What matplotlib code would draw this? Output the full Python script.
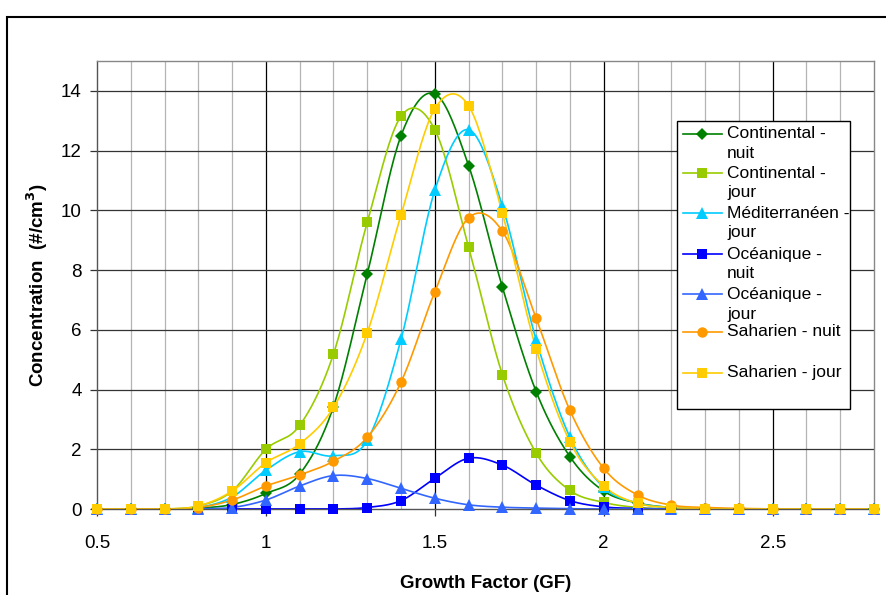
import numpy as np
import matplotlib
matplotlib.use("Agg")
import matplotlib.pyplot as plt
from matplotlib.lines import Line2D
from matplotlib.patches import Rectangle

plt.rcParams['font.family'] = ['Liberation Sans', 'DejaVu Sans']

gf = [0.5, 0.6, 0.7, 0.8, 0.9, 1.0, 1.1, 1.2, 1.3, 1.4, 1.5, 1.6, 1.7, 1.8, 1.9,
      2.0, 2.1, 2.2, 2.3, 2.4, 2.5, 2.6, 2.7, 2.8]

continental_nuit = [0, 0, 0, 0.03, 0.15, 0.52, 1.17, 3.43, 7.87, 12.5, 13.9, 11.5, 7.43,
                    3.93, 1.75, 0.6, 0.2, 0.05, 0.01, 0, 0, 0, 0, 0]
continental_jour = [0, 0, 0, 0.1, 0.6, 2.0, 2.8, 5.19, 9.6, 13.15, 12.7, 8.77, 4.5,
                    1.87, 0.62, 0.22, 0.05, 0.01, 0, 0, 0, 0, 0, 0]
mediterraneen_jour = [0, 0, 0, 0.05, 0.4, 1.3, 1.92, 1.78, 2.3, 5.68, 10.67, 12.7, 10.15,
                      5.66, 2.4, 0.72, 0.2, 0.05, 0.01, 0, 0, 0, 0, 0]
oceanique_nuit = [0, 0, 0, 0, 0, 0, 0, 0, 0.05, 0.28, 1.03, 1.7, 1.47,
                  0.8, 0.28, 0.07, 0.02, 0, 0, 0, 0, 0, 0, 0]
oceanique_jour = [0, 0, 0, 0.01, 0.05, 0.3, 0.77, 1.12, 1.02, 0.69, 0.36, 0.14, 0.06,
                  0.03, 0.01, 0, 0, 0, 0, 0, 0, 0, 0, 0]
saharien_nuit = [0, 0, 0, 0.05, 0.3, 0.77, 1.14, 1.6, 2.4, 4.25, 7.27, 9.75, 9.3,
                 6.38, 3.3, 1.36, 0.47, 0.13, 0.05, 0.02, 0, 0, 0, 0]
saharien_jour = [0, 0, 0, 0.1, 0.6, 1.55, 2.18, 3.4, 5.9, 9.85, 13.4, 13.5, 9.9,
                 5.36, 2.25, 0.77, 0.19, 0.05, 0.01, 0, 0, 0, 0, 0]

series = [
    ("Continental -\nnuit", continental_nuit, "#008000", "D", 6.0),
    ("Continental -\njour", continental_jour, "#99CC00", "s", 7.0),
    ("Méditerranéen -\njour", mediterraneen_jour, "#00CCFF", "^", 8.0),
    ("Océanique -\nnuit", oceanique_nuit, "#0000FF", "s", 7.0),
    ("Océanique -\njour", oceanique_jour, "#3366FF", "^", 8.0),
    ("Saharien - nuit", saharien_nuit, "#FF9900", "o", 7.5),
    ("Saharien - jour", saharien_jour, "#FFCC00", "s", 7.0),
]


def smooth(xs, ys, n=20):
    """Bezier smoothing through points (Excel-like smoothed line)."""
    P = np.column_stack([xs, ys]).astype(float)
    m = len(P)
    out = []
    for i in range(m - 1):
        p0 = P[i - 1] if i > 0 else P[i]
        p1 = P[i]
        p2 = P[i + 1]
        p3 = P[i + 2] if i + 2 < m else P[i + 1]
        c1 = p1 + (p2 - p0) / 6.0
        c2 = p2 - (p3 - p1) / 6.0
        t = np.linspace(0, 1, n, endpoint=(i == m - 2))[:, None]
        seg = ((1 - t) ** 3) * p1 + 3 * ((1 - t) ** 2) * t * c1 + 3 * (1 - t) * t ** 2 * c2 + t ** 3 * p2
        out.append(seg)
    out = np.vstack(out)
    return out[:, 0], out[:, 1]


W, H = 886, 595
fig = plt.figure(figsize=(W / 100, H / 100), dpi=100)
ax = fig.add_axes([97 / W, 1 - 509 / H, (874 - 97) / W, (509 - 61) / H])

ax.set_xlim(0.5, 2.8)
ax.set_ylim(0, 15)

# grid
for xv in np.arange(0.6, 2.8, 0.1):
    major = abs(round(xv * 2) - xv * 2) < 1e-6
    ax.axvline(xv, color="#000000" if major else "#b4b4b4", lw=0.9, zorder=0)
for yv in range(2, 15, 2):
    ax.axhline(yv, color="#333333", lw=0.9, zorder=0)

for label, ys, col, mk, ms in series:
    sx, sy = smooth(gf, ys)
    ax.plot(sx, sy, color=col, lw=1.2, zorder=2)
    ax.plot(gf, ys, ls="none", marker=mk, color=col, markersize=ms,
            markeredgewidth=0, zorder=3, clip_on=False)

ax.set_xticks([0.5, 1.0, 1.5, 2.0, 2.5])
ax.set_xticklabels(["0.5", "1", "1.5", "2", "2.5"])
ax.set_yticks(range(0, 15, 2))
ax.tick_params(axis="both", labelsize=13.5, direction="out", length=5, width=0.9, color="#333333")
ax.tick_params(axis="x", pad=14)
ax.tick_params(axis="y", pad=6)

for s in ["top", "right"]:
    ax.spines[s].set_color("#888888")
for s in ["left", "bottom"]:
    ax.spines[s].set_color("#555555")
for s in ax.spines.values():
    s.set_linewidth(1.0)

ax.set_xlabel("Growth Factor (GF)", fontsize=13.5, fontweight="bold", labelpad=16)
ax.set_ylabel("Concentration  (#/cm$^\\mathbf{3}$)", fontsize=13.5, fontweight="bold", labelpad=8)

# figure frame
fig.patches.append(Rectangle((6.5 / W, -0.2), 1.2, 1.2 - 17 / H,
                             transform=fig.transFigure, fill=False, ec="#000000", lw=1.5))

# legend (manual, Excel style)
lx0, lx1, ly0, ly1 = 677, 850, 121, 409
fig.patches.append(Rectangle((lx0 / W, 1 - ly1 / H), (lx1 - lx0) / W, (ly1 - ly0) / H,
                             transform=fig.transFigure, fc="white", ec="#000000", lw=1.0, zorder=5))
entry_y = [134, 173, 213, 254, 294, 332, 373]
for (label, ys, col, mk, ms), py in zip(series, entry_y):
    fy = 1 - py / H
    fig.add_artist(Line2D([683 / W, 722 / W], [fy, fy], color=col, lw=1.2,
                          transform=fig.transFigure, zorder=6))
    fig.add_artist(Line2D([702 / W], [fy], color=col, marker=mk, markersize=ms,
                          markeredgewidth=0, transform=fig.transFigure, zorder=6))
    for k, line in enumerate(label.split("\n")):
        fig.text(727 / W, 1 - (py + 20 * k) / H, line, fontsize=12.5, va="center",
                 ha="left", zorder=7)

fig.savefig("out.png", dpi=100)
